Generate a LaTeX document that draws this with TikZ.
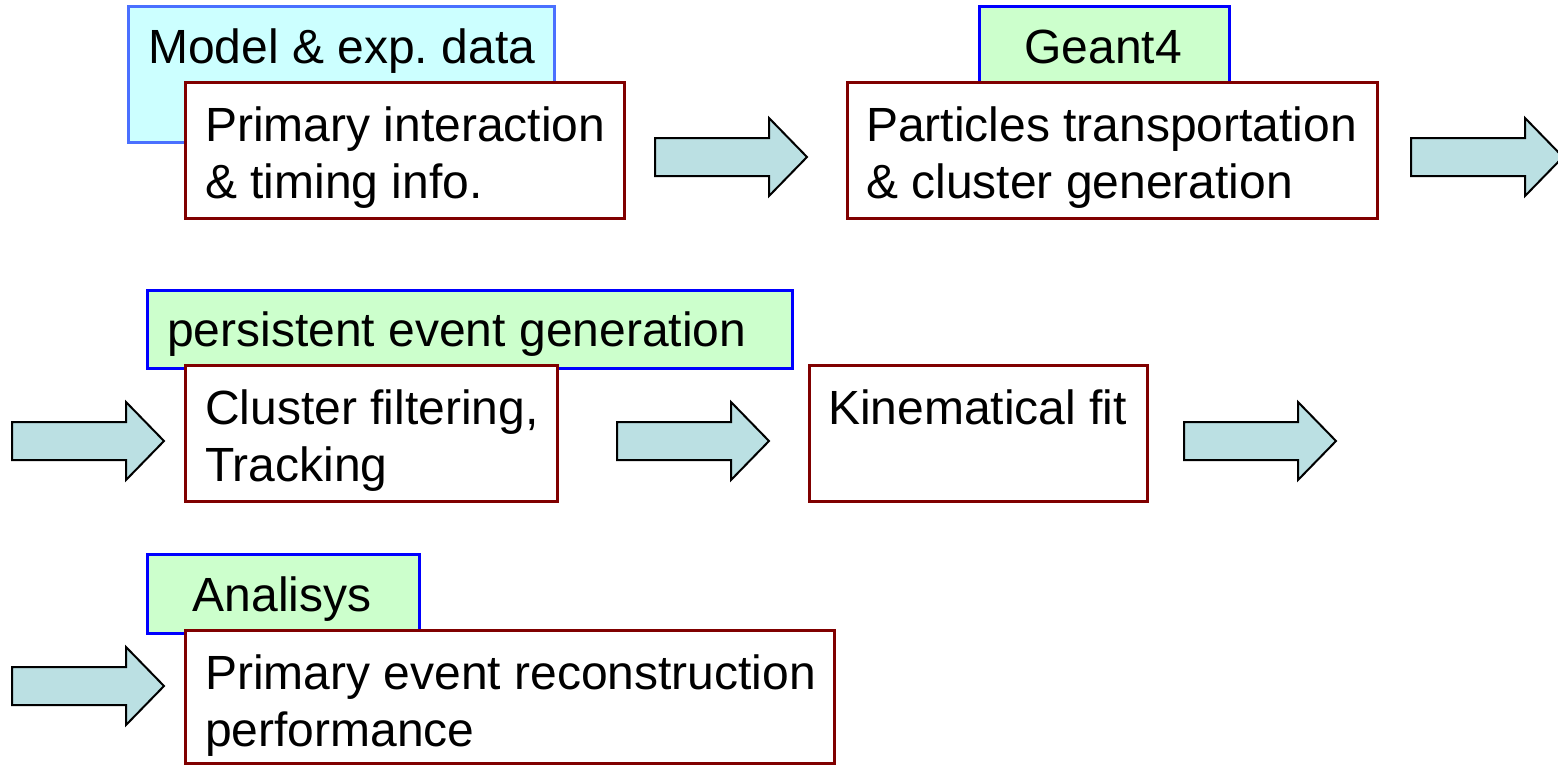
\documentclass[tikz,border=0pt]{standalone}
\usepackage{fontspec}
\setmainfont{Liberation Sans}
\frenchspacing
\definecolor{redb}{HTML}{800000}
\definecolor{blueb}{HTML}{0000FF}
\definecolor{lblueb}{HTML}{4A70FF}
\definecolor{cyanf}{HTML}{CCFFFF}
\definecolor{greenf}{HTML}{CCFFCC}
\definecolor{arrf}{HTML}{BBE0E3}
\tikzset{
  redbox/.style={draw=redb, line width=3pt, fill=white, inner sep=0pt, anchor=north west},
  greenbox/.style={draw=blueb, line width=3pt, fill=greenf, inner sep=0pt, anchor=north west},
  cyanbox/.style={draw=lblueb, line width=3pt, fill=cyanf, inner sep=0pt, anchor=north west},
  txt/.style={inner sep=0pt, font=\fontsize{48}{57}\selectfont},
  arrstyle/.style={draw=black, line width=2pt, fill=arrf, line join=miter},
  blockarr/.pic={\draw[arrstyle] (0,-19) -- (114,-19) -- (114,-39) -- (152,0) -- (114,39) -- (114,19) -- (0,19) -- cycle;}
}
\begin{document}
\begin{tikzpicture}[x=1pt,y=-1pt]
\useasboundingbox (0,0) rectangle (1558,764);
\clip (0,0) rectangle (1558,764);
\fill[white] (0,0) rectangle (1558,764);
% row 1
\node[cyanbox, minimum width=426pt, minimum height=136pt] (model) at (127,5) {};
\node[txt, anchor=base west] (modelt) at (148,63) {Model \& exp. data};
\node[redbox, minimum width=439pt, minimum height=136pt] (prim) at (184,81) {};
\node[txt, anchor=base west] (primt1) at (205,141) {Primary interaction};
\node[txt, anchor=base west] (primt2) at (205,198) {\& timing info.};
\pic (a1) at (655,157) {blockarr};
\node[greenbox, minimum width=250pt, minimum height=77pt] (geant) at (978,5) {};
\node[txt, anchor=base] (geantt) at (1103,63) {Geant4};
\node[redbox, minimum width=530pt, minimum height=136pt] (part) at (846,81) {};
\node[txt, anchor=base west] (partt1) at (866,141) {Particles transportation};
\node[txt, anchor=base west] (partt2) at (866,198) {\& cluster generation};
\pic (a2) at (1411,157) {blockarr};
% row 2
\pic (a3) at (12,441) {blockarr};
\node[greenbox, minimum width=645pt, minimum height=78pt] (pers) at (146,289) {};
\node[txt, anchor=base west] (perst) at (167,346) {persistent event generation};
\node[redbox, minimum width=372pt, minimum height=136pt] (clus) at (184,364) {};
\node[txt, anchor=base west] (clust1) at (205,424) {Cluster filtering,};
\node[txt, anchor=base west] (clust2) at (205,481) {Tracking};
\pic (a4) at (617,441) {blockarr};
\node[redbox, minimum width=338pt, minimum height=136pt] (kin) at (808,364) {};
\node[txt, anchor=base west] (kint) at (828,424) {Kinematical fit};
\pic (a5) at (1184,441) {blockarr};
% row 3
\pic (a6) at (12,686) {blockarr};
\node[greenbox, minimum width=272pt, minimum height=79pt] (ana) at (146,553) {};
\node[txt, anchor=base] (anat) at (282,611) {Analisys};
\node[redbox, minimum width=649pt, minimum height=133pt] (perf) at (184,629) {};
\node[txt, anchor=base west] (perft1) at (205,689) {Primary event reconstruction};
\node[txt, anchor=base west] (perft2) at (205,746) {performance};
\end{tikzpicture}
\end{document}
